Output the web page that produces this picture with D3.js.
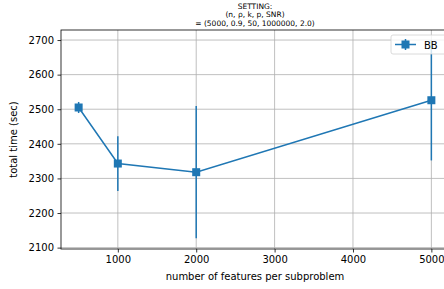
<!DOCTYPE html>
<html>
<head>
<meta charset="utf-8">
<script src="https://cdn.jsdelivr.net/npm/d3@7"></script>
<style>
  body { margin: 0; background: #fff; }
  svg { font-family: "DejaVu Sans", sans-serif; }
</style>
</head>
<body>
<div id="chart"></div>
<script>
// data
const features = [500, 1000, 2000, 5000];
const totalTime = [2505, 2343, 2318, 2526];
const timeErr = [16, 79, 191, 174];
const xTicks = [1000, 2000, 3000, 4000, 5000];
const yTicks = [2100, 2200, 2300, 2400, 2500, 2600, 2700];
const titleLines = ["SETTING:", "(n, \u03c1, k, p, SNR)", "= (5000, 0.9, 50, 1000000, 2.0)"];

const W = 444, H = 289;
const margin = {top: 30, right: -5, bottom: 40, left: 61};
const width = W - margin.left - margin.right;
const height = H - margin.top - margin.bottom;
const blue = "#1f77b4";

const svg = d3.select("#chart").append("svg")
  .attr("width", W)
  .attr("height", H);

const g = svg.append("g")
  .attr("transform", "translate(" + margin.left + "," + margin.top + ")");

let x = d3.scaleLinear().domain([275, 5225]).range([0, width]);
let y = d3.scaleLinear().domain([2096, 2729]).range([height, 0]);

// grid
g.selectAll(".gx").data(xTicks).enter().append("line")
  .attr("x1", d => x(d)).attr("x2", d => x(d))
  .attr("y1", 0).attr("y2", height)
  .attr("stroke", "#b0b0b0").attr("stroke-width", 0.8);
g.selectAll(".gy").data(yTicks).enter().append("line")
  .attr("y1", d => y(d)).attr("y2", d => y(d))
  .attr("x1", 0).attr("x2", width)
  .attr("stroke", "#b0b0b0").attr("stroke-width", 0.8);

// axes
const xAxis = g.append("g")
  .attr("transform", "translate(0," + height + ")")
  .call(d3.axisBottom(x).tickValues(xTicks).tickSize(3.5).tickPadding(3.5).tickFormat(d3.format("d")));
const yAxis = g.append("g")
  .call(d3.axisLeft(y).tickValues(yTicks).tickSize(3.5).tickPadding(3.5).tickFormat(d3.format("d")));
[xAxis, yAxis].forEach(a => {
  a.selectAll("text").style("font-size", "10px").style("font-family", "DejaVu Sans").attr("fill", "#000");
  a.selectAll("line").attr("stroke", "#000").attr("stroke-width", 0.8);
  a.select(".domain").remove();
});

// spines
g.append("rect")
  .attr("width", width).attr("height", height)
  .attr("fill", "none").attr("stroke", "#000").attr("stroke-width", 0.8);

// line + error bars + markers
const pts = features.map((f, i) => ({x: f, y: totalTime[i], e: timeErr[i]}));

g.selectAll(".err").data(pts).enter().append("line")
  .attr("x1", d => x(d.x)).attr("x2", d => x(d.x))
  .attr("y1", d => y(d.y - d.e)).attr("y2", d => y(d.y + d.e))
  .attr("stroke", blue).attr("stroke-width", 1.5);

g.append("path")
  .datum(pts)
  .attr("fill", "none")
  .attr("stroke", blue)
  .attr("stroke-width", 1.5)
  .attr("d", d3.line().x(d => x(d.x)).y(d => y(d.y)));

g.selectAll(".mk").data(pts).enter().append("rect")
  .attr("x", d => x(d.x) - 4).attr("y", d => y(d.y) - 4)
  .attr("width", 8).attr("height", 8)
  .attr("fill", blue);

// axis labels
svg.append("text")
  .attr("x", margin.left + width / 2).attr("y", H - 9)
  .attr("text-anchor", "middle")
  .style("font-size", "10px")
  .text("number of features per subproblem");

svg.append("text")
  .attr("transform", "translate(17," + (margin.top + height / 2) + ") rotate(-90)")
  .attr("text-anchor", "middle")
  .style("font-size", "10px")
  .text("total time (sec)");

// title
svg.selectAll(".title").data(titleLines).enter().append("text")
  .attr("x", margin.left + width / 2)
  .attr("y", (d, i) => 9 + i * 8.4)
  .attr("text-anchor", "middle")
  .style("font-size", "7.5px")
  .text(d => d);

// legend
const leg = g.append("g").attr("transform", "translate(" + (width - 58) + ",5)");
leg.append("rect")
  .attr("width", 60).attr("height", 19).attr("rx", 2)
  .attr("fill", "#fff").attr("fill-opacity", 0.8)
  .attr("stroke", "#d0d0d0").attr("stroke-width", 0.8);
leg.append("line").attr("x1", 4).attr("x2", 25).attr("y1", 9.5).attr("y2", 9.5)
  .attr("stroke", blue).attr("stroke-width", 1.5);
leg.append("line").attr("x1", 14.5).attr("x2", 14.5).attr("y1", 4).attr("y2", 15)
  .attr("stroke", blue).attr("stroke-width", 1.5);
leg.append("rect").attr("x", 10.5).attr("y", 5.5).attr("width", 8).attr("height", 8).attr("fill", blue);
leg.append("text").attr("x", 33).attr("y", 13.5).style("font-size", "10px").text("BB");
</script>
</body>
</html>
